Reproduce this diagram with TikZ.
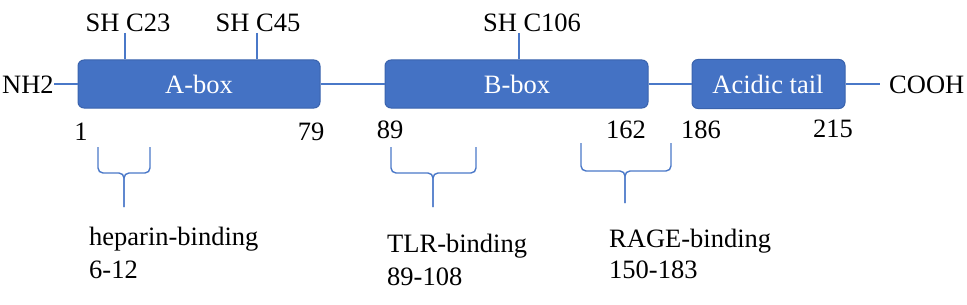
\documentclass[tikz,border=0pt]{standalone}
\usepackage{fontspec}
\setmainfont{Liberation Serif}
\definecolor{boxblue}{HTML}{4472C4}
\definecolor{boxedge}{HTML}{3A63AD}
\definecolor{lineblue}{HTML}{4A78C8}
\begin{document}
\begin{tikzpicture}[x=1pt,y=-1pt,
  lbl/.style={inner sep=0pt,anchor=base,font=\fontsize{26.5}{30}\selectfont},
  lblw/.style={lbl,anchor=base west},
  dombox/.style={draw=boxedge,fill=boxblue,rounded corners=6pt,line width=1pt,
    inner sep=0pt},
  conn/.style={draw=lineblue,line width=1.4pt},
  bracestyle/.style={draw=lineblue,line width=1.4pt,rounded corners=5pt}]
\useasboundingbox (0,0) rectangle (967,305);
% domains
\node[dombox,minimum width=242pt,minimum height=48pt] (abox) at (199,84) {};
\node[dombox,minimum width=263pt,minimum height=48pt] (bbox) at (516.5,84) {};
\node[dombox,minimum width=153pt,minimum height=49pt] (ctail) at (768.5,84) {};
\node[lbl,text=white] (atxt) at (199,93) {A-box};
\node[lbl,text=white] (btxt) at (517,93) {B-box};
\node[lbl,text=white] (ctxt) at (768,93) {Acidic tail};
% termini
\node[lblw] (nh2) at (2,94) {NH2};
\node[lblw] (cooh) at (889,93) {COOH};
\coordinate (cend) at (880,84);
\draw[conn] (abox.west) -- (abox.west -| nh2.east);
\draw[conn] (abox.east) -- (bbox.west);
\draw[conn] (bbox.east) -- (ctail.west);
\draw[conn] (ctail.east) -- (cend);
% cysteines
\node[lbl] (c23) at (128,32) {SH C23};
\node[lbl] (c45) at (258,32) {SH C45};
\node[lbl] (c106) at (532,32) {SH C106};
\coordinate (t23) at (125,33);
\coordinate (t45) at (257,33);
\coordinate (t106) at (519,33);
\draw[conn] (t23) -- (t23 |- abox.north);
\draw[conn] (t45) -- (t45 |- abox.north);
\draw[conn] (t106) -- (t106 |- bbox.north);
% residue numbers
\node[lbl] (n1) at (81,140) {1};
\node[lbl] (n79) at (311,140) {79};
\node[lbl] (n89) at (390,138) {89};
\node[lbl] (n162) at (626,138) {162};
\node[lbl] (n186) at (701,138) {186};
\node[lbl] (n215) at (833,137) {215};
% braces
\foreach \nm/\l/\m/\r/\t/\h/\b in {hep/98/124/150/147/173/207, tlr/391/433/476/147/173/207, rage/581/625/671/143/171/203}{
  \coordinate (\nm L) at (\l,\t);
  \coordinate (\nm R) at (\r,\t);
  \coordinate (\nm M) at (\m,\h);
  \coordinate (\nm B) at (\m,\b);
  \draw[bracestyle] (\nm L) -- (\nm L |- \nm M) -- (\nm M) -- (\nm B);
  \draw[bracestyle] (\nm R) -- (\nm R |- \nm M) -- (\nm M) -- (\nm B);
}
% binding labels
\node[lblw] (hep1) at (89,245) {heparin-binding};
\node[lblw] (hep2) at (89,278) {6-12};
\node[lblw] (tlr1) at (387,252) {TLR-binding};
\node[lblw] (tlr2) at (387,285) {89-108};
\node[lblw] (rage1) at (609,247) {RAGE-binding};
\node[lblw] (rage2) at (609,278) {150-183};
\end{tikzpicture}
\end{document}
